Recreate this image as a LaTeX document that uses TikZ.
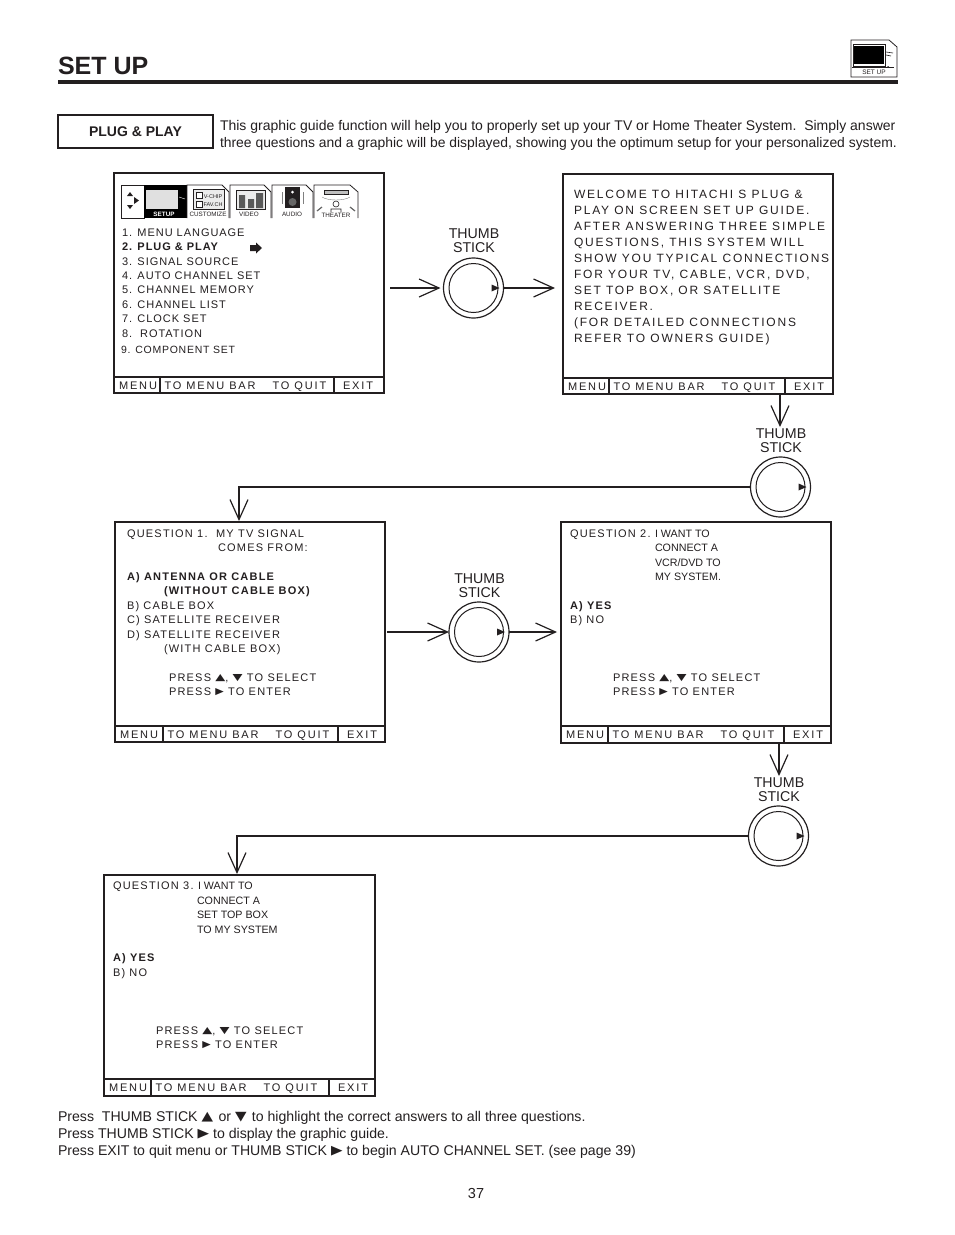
\documentclass[tikz,border=0pt]{standalone}
\usepackage{fontspec}
\usepackage{graphicx}
\usetikzlibrary{arrows.meta,calc}
\setmainfont{Liberation Sans}
\newfontfamily\wideA[LetterSpace=11]{Liberation Sans}
\newfontfamily\wideB[LetterSpace=15]{Liberation Sans}
\newfontfamily\wideC[LetterSpace=7]{Liberation Sans}
\newfontfamily\wideD[LetterSpace=17]{Liberation Sans}
\newfontfamily\wideE[LetterSpace=8.7]{Liberation Sans}
\newfontfamily\symf{DejaVu Sans}
\definecolor{ink}{HTML}{231F20}
\newcommand{\up}{\raisebox{1pt}{\scalebox{1}[.72]{\symf\fontsize{13}{13}\selectfont ▲}}}
\newcommand{\dn}{\raisebox{1pt}{\scalebox{1}[.72]{\symf\fontsize{13}{13}\selectfont ▼}}}
\newcommand{\rt}{\raisebox{.8pt}{\scalebox{.85}[.72]{\symf\fontsize{13}{13}\selectfont ▶}}}
\newcommand{\bup}{\raisebox{.7pt}{\scalebox{1}[.85]{\symf\fontsize{15}{15}\selectfont ▲}}\hspace{1.5pt}}
\newcommand{\bdn}{\raisebox{.7pt}{\scalebox{1}[.85]{\symf\fontsize{15}{15}\selectfont ▼}}\hspace{1.5pt}}
\newcommand{\brt}{\raisebox{.5pt}{\scalebox{1}[.85]{\symf\fontsize{15}{15}\selectfont ▶}}}
\tikzset{
  every node/.style={text=ink,inner sep=0pt,outer sep=0pt},
  screen/.style={draw=ink,line width=1.5pt,minimum width=#1,minimum height=220pt,anchor=north west},
  screen/.default=270pt,
  barline/.style={draw=ink,line width=1.5pt},
  tl/.style={anchor=base west,font=\wideA\fontsize{11}{11}\selectfont},
  tb/.style={anchor=base west,font=\wideA\bfseries\fontsize{11}{11}\selectfont},
  te/.style={anchor=base west,font=\wideE\fontsize{11}{11}\selectfont},
  tf/.style={anchor=base west,font=\wideE\bfseries\fontsize{11}{11}\selectfont},
  tw/.style={anchor=base west,font=\wideB\fontsize{12}{12}\selectfont},
  tn/.style={anchor=base west,font=\wideC\fontsize{10.5}{10.5}\selectfont},
  tp/.style={anchor=base west,font=\fontsize{10.7}{10.7}\selectfont},
  barlbl/.style={anchor=base west,font=\wideD\fontsize{11}{11}\selectfont},
  body/.style={anchor=base west,font=\fontsize{14}{14}\selectfont},
  foot/.style={anchor=base west,font=\fontsize{14.12}{14}\selectfont},
  thumblbl/.style={anchor=base,align=center,font=\fontsize{14.2}{14}\selectfont},
  stickout/.style={draw=ink,line width=1.2pt,circle,minimum size=60pt},
  stickin/.style={draw=ink,line width=1pt,circle,minimum size=49pt},
  flow/.style={draw=ink,line width=1.2pt,-{Straight Barb[length=20pt,width=18pt,line width=1.2pt]}},
  tab/.style={draw=ink,line width=.8pt,fill=white},
  tiny/.style={anchor=base,font=\fontsize{6.3}{6.3}\selectfont},
}
\newcommand{\screenbar}[8]{% name, x0, bar top, bottom, x right, div1, div2, baseline
  \draw[barline] (#2,#3) -- (#5,#3);
  \draw[barline] (#6,#3) -- (#6,#4);
  \draw[barline] (#7,#3) -- (#7,#4);
  \node[barlbl] (#1m) at (#2+5,#8) {MENU};
  \node[barlbl] (#1b) at (#6+4.5,#8) {TO MENU BAR};
  \node[barlbl] (#1q) at (#6+112.5,#8) {TO QUIT};
  \node[barlbl] (#1e) at (#7+9,#8) {EXIT};
}
\newcommand{\stick}[3]{% name, x, y
  \node[stickout] (#1) at (#2,#3) {};
  \node[stickin] (#1i) at (#2,#3) {};
  \fill[ink] (#2+18,#3-3.5) -- (#2+26,#3) -- (#2+18,#3+3.5) -- cycle;
}
\begin{document}
\begin{tikzpicture}[x=1pt,y=-1pt]
\useasboundingbox (0,0) rectangle (954,1235);
\fill[white] (0,0) rectangle (954,1235);
% header
\node[anchor=base west,font=\bfseries\fontsize{25}{25}\selectfont] (title) at (58,74.5) {SET UP};
\fill[ink] (58,80) rectangle (898,84);
% icon
\draw[ink,line width=.8pt] (851,40) -- (889,40) -- (897,47) -- (897,77) -- (851,77) -- cycle;
\fill[black] (854,46) rectangle (884,64);
\draw[ink,line width=.8pt] (853,44.5) rectangle (885,66);
\draw[ink,line width=.6pt] (886,52) -- (893,53) (886,55) -- (891,56);
\draw[ink,line width=.6pt] (852,67) -- (894,67);
\fill[ink] (888,67) circle (1pt);
\node[tiny,font=\fontsize{6.5}{6.5}\selectfont] (icont) at (874,74.5) {SET UP};
% plug & play
\node[draw=ink,line width=1.6pt,minimum width=155pt,minimum height=33pt,anchor=north west,font=\bfseries\fontsize{14}{14}\selectfont] (pp) at (58,115) {PLUG \& PLAY};
\node[body] (p1) at (220,130) {This graphic guide function will help you to properly set up your TV or Home Theater System.\ \ Simply answer};
\node[body,font=\fontsize{13.9}{14}\selectfont] (p2) at (220,147) {three questions and a graphic will be displayed, showing you the optimum setup for your personalized system.};
% screen 1
\node[screen] (s1) at (114,173) {};
\screenbar{sa}{114}{377}{393}{384}{160}{334}{389}
\draw[tab] (121.5,185) rectangle (144,218);
\fill[ink] (134,197) -- (139,200.5) -- (134,204) -- cycle;
\fill[ink] (130,192) -- (133,196) -- (127,196) -- cycle;
\fill[ink] (130,209) -- (133,205) -- (127,205) -- cycle;
\fill[black] (144,185) rectangle (187,218);
\fill[black!12] (146,190) rectangle (178,209);
\draw[white,line width=.4pt] (179,197) -- (185,199);
\node[tiny,text=white,font=\bfseries\fontsize{6.3}{6.3}\selectfont] (tsetup) at (164,216) {SETUP};
\draw[tab] (187,218) -- (187,185) -- (222,185) -- (229,192) -- (229,218);
\draw[ink,line width=.5pt,fill=black!8] (193,189) rectangle (224,209);
\draw[ink,line width=.5pt,fill=white] (196,192) rectangle (202,198) (196,201) rectangle (202,207);
\node[tiny,font=\fontsize{5.5}{5.5}\selectfont] (tv1) at (213,198) {V-CHIP};
\node[tiny,font=\fontsize{5.5}{5.5}\selectfont] (tv2) at (213,206) {FAV.CH};
\node[tiny] (tcust) at (208,216) {CUSTOMIZE};
\draw[tab] (230,218) -- (230,185) -- (264,185) -- (271,192) -- (271,218);
\draw[ink,line width=.5pt,fill=black!8] (236,190) rectangle (265,209);
\fill[black!65] (239,195) rectangle (245,208) (248,199) rectangle (254,208) (256,193) rectangle (263,208);
\node[tiny] (tvid) at (249,216) {VIDEO};
\draw[tab] (272,218) -- (272,185) -- (306,185) -- (313,192) -- (313,218);
\fill[ink] (285,187) rectangle (300,208);
\fill[black!60] (292.5,202) circle (4pt);
\fill[white] (292.5,192) circle (1.5pt);
\draw[black!50,line width=.4pt] (282,192) -- (282,204) (303,192) -- (303,204);
\node[tiny] (taud) at (292,216) {AUDIO};
\draw[tab] (314,218) -- (314,185) -- (350,185) -- (358,192) -- (358,218);
\draw[ink,line width=.8pt,fill=black!25] (324,190) rectangle (348,194);
\draw[black!50,line width=.4pt] (322,197) .. controls (328,201) and (344,201) .. (350,197);
\draw[ink,line width=.6pt] (336,204) circle (3pt) (331,212) -- (331,209) -- (341,209) -- (341,212);
\draw[black!60,line width=1.2pt] (317,211) -- (322,207) (355,211) -- (350,207);
\node[tiny] (tthe) at (336,217) {THEATER};
\node[te] (a1) at (122,236) {1. MENU LANGUAGE};
\node[tf] (a2) at (122,250) {2. PLUG \& PLAY};
\node[te] (a3) at (122,265) {3. SIGNAL SOURCE};
\node[te] (a4) at (122,279) {4. AUTO CHANNEL SET};
\node[te] (a5) at (122,293) {5. CHANNEL MEMORY};
\node[te] (a6) at (122,308) {6. CHANNEL LIST};
\node[te] (a7) at (122,322) {7. CLOCK SET};
\node[te] (a8) at (122,337) {8.\ \ ROTATION};
\node[tn] (a9) at (121,353) {9. COMPONENT SET};
\fill[ink] (250,245) -- (256,245) -- (256,242.5) -- (262,248) -- (256,253.5) -- (256,251) -- (250,251) -- cycle;
% screen 2
\node[screen] (s2) at (563,174) {};
\screenbar{sb}{563}{378}{394}{833}{609}{785}{390}
\node[tw] (b1) at (574,198) {WELCOME TO HITACHI S PLUG \&};
\node[tw] (b2) at (574,214) {PLAY ON SCREEN SET UP GUIDE.};
\node[tw] (b3) at (574,230) {AFTER ANSWERING THREE SIMPLE};
\node[tw] (b4) at (574,246) {QUESTIONS, THIS SYSTEM WILL};
\node[tw] (b5) at (574,262) {SHOW YOU TYPICAL CONNECTIONS};
\node[tw] (b6) at (574,278) {FOR YOUR TV, CABLE, VCR, DVD,};
\node[tw] (b7) at (574,294) {SET TOP BOX, OR SATELLITE};
\node[tw] (b8) at (574,310) {RECEIVER.};
\node[tw] (b9) at (574,326) {(FOR DETAILED CONNECTIONS};
\node[tw] (b10) at (574,342) {REFER TO OWNERS GUIDE)};
% screen 3
\node[screen] (s3) at (115,522) {};
\screenbar{sc}{115}{726}{742}{386}{163}{338}{738}
\node[tl] (c1) at (127,537) {QUESTION 1.\ \ MY TV SIGNAL};
\node[tl] (c2) at (218,551) {COMES FROM:};
\node[tb] (c3) at (127,580) {A) ANTENNA OR CABLE};
\node[tb] (c4) at (164,594) {(WITHOUT CABLE BOX)};
\node[tl] (c5) at (127,609) {B) CABLE BOX};
\node[tl] (c6) at (127,623) {C) SATELLITE RECEIVER};
\node[tl] (c7) at (127,638) {D) SATELLITE RECEIVER};
\node[tl] (c8) at (164,652) {(WITH CABLE BOX)};
\node[tl] (c9) at (169,681) {PRESS \up, \dn\ TO SELECT};
\node[tl] (c10) at (169,695) {PRESS \rt\ TO ENTER};
% screen 4
\node[screen,minimum height=221pt] (s4) at (561,522) {};
\screenbar{sd}{561}{726}{743}{832}{608}{784}{738}
\node[tl] (d1) at (570,537) {QUESTION 2.};
\node[tp] (d1b) at (655,537) {I WANT TO};
\node[tp] (d2) at (655,551) {CONNECT A};
\node[tp] (d3) at (655,566) {VCR/DVD TO};
\node[tp] (d4) at (655,580) {MY SYSTEM.};
\node[tb] (d5) at (570,609) {A) YES};
\node[tl] (d6) at (570,623) {B) NO};
\node[tl] (d7) at (613,681) {PRESS \up, \dn\ TO SELECT};
\node[tl] (d8) at (613,695) {PRESS \rt\ TO ENTER};
% screen 5
\node[screen,minimum width=271pt,minimum height=221pt] (s5) at (104,875) {};
\screenbar{se}{104}{1079}{1096}{375}{151}{329}{1091}
\node[tl] (e1) at (113,889) {QUESTION 3.};
\node[tp] (e1b) at (198,889) {I WANT TO};
\node[tp] (e2) at (197,904) {CONNECT A};
\node[tp] (e3) at (197,918) {SET TOP BOX};
\node[tp] (e4) at (197,933) {TO MY SYSTEM};
\node[tb] (e5) at (113,961) {A) YES};
\node[tl] (e6) at (113,976) {B) NO};
\node[tl] (e7) at (156,1034) {PRESS \up, \dn\ TO SELECT};
\node[tl] (e8) at (156,1048) {PRESS \rt\ TO ENTER};
% thumb sticks
\stick{k1}{473.5}{288}
\node[thumblbl] (k1a) at (474,238) {THUMB};
\node[thumblbl] (k1b) at (474,252) {STICK};
\stick{k2}{780.5}{487}
\node[thumblbl] (k2a) at (781,438) {THUMB};
\node[thumblbl] (k2b) at (781,452) {STICK};
\stick{k3}{479}{632}
\node[thumblbl] (k3a) at (479.5,583) {THUMB};
\node[thumblbl] (k3b) at (479.5,597) {STICK};
\stick{k4}{778.5}{836}
\node[thumblbl] (k4a) at (779,787) {THUMB};
\node[thumblbl] (k4b) at (779,801) {STICK};
% connectors
\coordinate (f1) at (390,288);
\coordinate (f2) at (555,288);
\coordinate (f3) at (780,427);
\coordinate (f4) at (239,521);
\coordinate (f5) at (387,632);
\coordinate (f6) at (557,632);
\coordinate (f7) at (779,776);
\coordinate (f8) at (237,874);
\coordinate (f9) at (780,394);
\coordinate (f10) at (779,743);
\draw[flow,shorten >=3pt] (f1) -- (k1.west);
\draw[flow] (k1.east) -- (f2);
\draw[flow] (f9) -- (f3);
\draw[flow] (k2.west) -| (f4);
\draw[flow] (f5) -- (k3.west);
\draw[flow] (k3.east) -- (f6);
\draw[flow] (f10) -- (f7);
\draw[flow] (k4.west) -| (f8);
% footer
\node[foot] (n1) at (58,1121) {Press\ \ THUMB STICK \bup\ or \bdn\ to highlight the correct answers to all three questions.};
\node[foot] (n2) at (58,1138) {Press THUMB STICK \brt\ to display the graphic guide.};
\node[foot] (n3) at (58,1155) {Press EXIT to quit menu or THUMB STICK \brt\ to begin AUTO CHANNEL SET. (see page 39)};
\node[anchor=base,font=\fontsize{14.5}{14.5}\selectfont] (pg) at (476,1198) {37};
\end{tikzpicture}
\end{document}
